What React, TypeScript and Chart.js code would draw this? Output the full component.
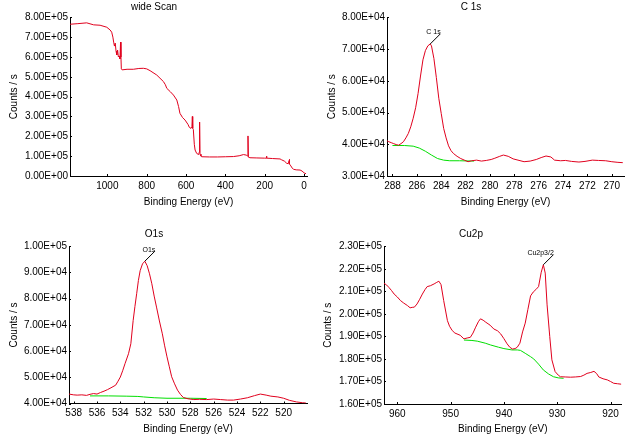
import React, { useEffect, useRef } from "react";
import { Chart, registerables } from "chart.js";

Chart.register(...registerables);
Chart.defaults.font.family = "'Liberation Sans', Arial, sans-serif";
Chart.defaults.font.size = 10;
Chart.defaults.color = "#000";

const RED = "rgb(224,0,30)";
const GREEN = "rgb(0,222,0)";

// ---------- wide scan ----------
const wideBE = [1190, 1150, 1105, 1070, 1037, 1003, 986, 978, 972, 968, 964, 960, 956, 952, 948, 944, 940, 936, 933, 931, 929, 925, 900, 868, 840, 817, 800, 783, 749, 715, 705, 698, 680, 664, 647, 638, 631, 618, 605, 590, 583, 575, 570, 568, 566, 563, 558, 554, 546, 536, 533, 531, 529, 524, 520, 480, 440, 400, 359, 330, 308, 292, 287, 285, 283, 275, 240, 200, 193, 191, 189, 160, 122, 115, 100, 88, 80, 76, 75, 73, 70, 60, 54, 40, 20, 10, 5, 0, -5, -10];
const wideCounts = [765000, 768000, 772000, 762000, 760000, 750000, 736000, 725000, 700000, 675000, 655000, 670000, 630000, 610000, 635000, 600000, 605000, 590000, 675000, 600000, 540000, 535000, 538000, 538000, 542000, 543000, 540000, 531000, 509000, 476000, 460000, 442000, 425000, 408000, 383000, 350000, 316000, 295000, 282000, 260000, 245000, 240000, 250000, 300000, 240000, 235000, 160000, 131000, 114000, 108000, 120000, 272000, 110000, 100000, 97000, 96000, 96000, 97000, 98000, 102000, 108000, 105000, 100000, 202000, 95000, 92000, 91000, 90000, 90000, 100000, 90000, 88000, 86000, 82000, 75000, 64000, 62000, 78000, 84000, 60000, 55000, 40000, 34000, 31000, 30000, 25000, 20000, 16000, 13000, 12000];
const wideXTicks = [1000, 800, 600, 400, 200, 0];
const wideYTicks = [0, 100000, 200000, 300000, 400000, 500000, 600000, 700000, 800000];

// ---------- C 1s ----------
const c1sBE = [288.5, 288.3, 288.1, 287.9, 287.7, 287.5, 287.3, 287.1, 286.9, 286.7, 286.5, 286.3, 286.1, 285.9, 285.7, 285.5, 285.3, 285.1, 284.9, 284.8, 284.6, 284.4, 284.2, 284.0, 283.8, 283.6, 283.4, 283.2, 283.0, 282.7, 282.4, 282.1, 281.8, 281.5, 281.1, 280.7, 280.3, 279.9, 279.6, 279.2, 278.9, 278.5, 278.1, 277.7, 277.2, 276.7, 276.2, 275.8, 275.4, 275.0, 274.7, 274.2, 273.8, 273.3, 272.7, 272.2, 271.6, 271.1, 270.5, 270.0, 269.5, 269.1];
const c1sCounts = [41200, 40800, 40500, 40200, 39900, 39700, 40200, 40800, 42000, 43400, 45500, 48200, 51500, 56000, 61500, 66600, 69500, 71000, 71600, 71000, 67000, 61000, 54500, 49700, 45000, 42000, 39500, 38000, 37100, 36200, 35500, 35000, 34500, 34800, 35000, 34700, 34900, 35200, 35600, 36200, 36600, 36200, 35400, 35000, 34500, 34700, 35200, 35800, 36300, 36000, 35000, 34800, 34900, 34600, 34400, 34600, 35000, 34900, 34800, 34500, 34300, 34200];
const c1sBgBE = [288.0, 287.0, 286.3, 285.8, 285.3, 284.8, 284.3, 283.8, 283.3, 282.5, 281.3];
const c1sBg = [39600, 39600, 39400, 38800, 37800, 36600, 35500, 35000, 34800, 34800, 34700];
const c1sXTicks = [288, 286, 284, 282, 280, 278, 276, 274, 272, 270];
const c1sYTicks = [30000, 40000, 50000, 60000, 70000, 80000];

// ---------- O1s ----------
const o1sBE = [538.4, 538.0, 537.7, 537.3, 536.9, 536.6, 536.3, 536.0, 535.7, 535.4, 535.1, 534.8, 534.4, 534.2, 534.0, 533.8, 533.6, 533.3, 533.1, 532.9, 532.75, 532.6, 532.45, 532.3, 532.1, 531.9, 531.7, 531.5, 531.3, 531.1, 530.9, 530.65, 530.4, 530.2, 530.0, 529.8, 529.6, 529.35, 529.1, 528.85, 528.6, 528.2, 527.7, 527.2, 526.6, 526.0, 525.4, 524.8, 524.3, 523.7, 523.1, 522.5, 522.0, 521.5, 521.1, 520.5, 520.0, 519.5, 518.9, 518.4, 518.1];
const o1sCounts = [43600, 43300, 43200, 43300, 43100, 43500, 43800, 43600, 44200, 44700, 45300, 46000, 47000, 48500, 50100, 52500, 55200, 59000, 62800, 71700, 77000, 81900, 87000, 90700, 93300, 94300, 92600, 89500, 85700, 81000, 76800, 71500, 66600, 62000, 57800, 54000, 50200, 47500, 45100, 43500, 42300, 41800, 41500, 41600, 41500, 41700, 41500, 41300, 41300, 41700, 42200, 43000, 43600, 43200, 42800, 42500, 42000, 41200, 40600, 40300, 40200];
const o1sBgBE = [536.6, 535.0, 533.5, 532.5, 532.0, 531.1, 530.0, 529.4, 528.0, 526.6];
const o1sBg = [42900, 42900, 42800, 42700, 42500, 42200, 42000, 42000, 42000, 41900];
const o1sXTicks = [538, 536, 534, 532, 530, 528, 526, 524, 522, 520];
const o1sYTicks = [40000, 50000, 60000, 70000, 80000, 90000, 100000];

// ---------- Cu2p ----------
const cu2pBE = [962.5, 962.0, 961.6, 961.1, 960.6, 960.0, 959.4, 958.8, 958.1, 957.6, 957.2, 956.8, 956.3, 955.8, 955.3, 954.8, 954.4, 953.8, 953.1, 952.6, 952.2, 951.8, 951.3, 950.6, 950.2, 949.7, 949.2, 948.8, 948.2, 947.5, 946.9, 946.3, 945.8, 945.3, 944.8, 944.4, 943.9, 943.4, 942.6, 941.9, 941.2, 940.6, 940.0, 939.4, 938.9, 938.4, 937.9, 937.5, 937.0, 936.5, 936.0, 935.5, 935.0, 934.5, 934.0, 933.5, 933.0, 932.6, 932.25, 931.9, 931.4, 931.0, 930.4, 929.8, 929.4, 928.5, 927.5, 926.6, 925.6, 925.0, 924.4, 923.7, 923.1, 922.6, 922.2, 921.4, 920.6, 920.0, 919.4, 918.7, 918.0];
const cu2pCounts = [213600, 212800, 211800, 210400, 208800, 207500, 205900, 204800, 203700, 202700, 202900, 203000, 204400, 206500, 208800, 210800, 212100, 212500, 213300, 214000, 214500, 213000, 205900, 197000, 194500, 192600, 191500, 191100, 190500, 188900, 189300, 189600, 191500, 194100, 196500, 197800, 197200, 196300, 195000, 193300, 192500, 191100, 189000, 186700, 185200, 184400, 184600, 185200, 187000, 192000, 195900, 202000, 208000, 209700, 210800, 212100, 218500, 221800, 218100, 204000, 189900, 179600, 174400, 172800, 172100, 172000, 171900, 172000, 172200, 172800, 173600, 174000, 174500, 173500, 172000, 171200, 170700, 170000, 169200, 169000, 168800];
const cu2pBgBE = [947.5, 946.0, 945.0, 943.5, 942.5, 941.0, 940.0, 938.5, 937.5, 936.9, 936.0, 935.0, 934.4, 933.5, 932.6, 931.6, 930.7, 929.8, 928.8];
const cu2pBg = [188400, 188200, 187900, 187000, 186200, 185200, 184600, 184000, 184000, 183800, 182500, 181000, 180000, 177700, 175100, 173300, 172100, 171600, 171400];
const cu2pXTicks = [960, 950, 940, 930, 920];
const cu2pYTicks = [160000, 170000, 180000, 190000, 200000, 210000, 220000, 230000];

const xTitle = "Binding Energy (eV)";
const yTitle = "Counts / s";

function fmtExp(v: number): string {
  const s = Number(v).toExponential(2);
  const [m, e] = s.split("e");
  const n = parseInt(e, 10);
  return `${m}E${n < 0 ? "-" : "+"}${String(Math.abs(n)).padStart(2, "0")}`;
}

function zip(xs: number[], ys: number[]) {
  return xs.map((x, i) => ({ x, y: ys[i] }));
}

type Geo = { L: number; R: number; T: number; B: number; titleY: number; xTitleY: number; yTitleX: number };
type Peak = { be: number; value: number; text: string } | null;
type PanelCfg = {
  left: number;
  top: number;
  title: string;
  geo: Geo;
  xMin: number;
  xMax: number;
  yMin: number;
  yMax: number;
  xTicks: number[];
  yTicks: number[];
  red: { x: number; y: number }[];
  green: { x: number; y: number }[] | null;
  peak: Peak;
};

const W = 317;
const H = 224;

const panels: PanelCfg[] = [
  {
    left: 0, top: 0, title: "wide Scan",
    geo: { L: 70, R: 307, T: 17.3, B: 176, titleY: 7, xTitleY: 202, yTitleX: 14 },
    xMin: -15, xMax: 1190, yMin: 0, yMax: 800000,
    xTicks: wideXTicks, yTicks: wideYTicks,
    red: zip(wideBE, wideCounts), green: null, peak: null,
  },
  {
    left: 317, top: 0, title: "C 1s",
    geo: { L: 70, R: 307, T: 17.3, B: 176, titleY: 7, xTitleY: 202, yTitleX: 15 },
    xMin: 269.0, xMax: 288.45, yMin: 30000, yMax: 80000,
    xTicks: c1sXTicks, yTicks: c1sYTicks,
    red: zip(c1sBE, c1sCounts), green: zip(c1sBgBE, c1sBg),
    peak: { be: 284.9, value: 71600, text: "C 1s" },
  },
  {
    left: 0, top: 224, title: "O1s",
    geo: { L: 69, R: 307, T: 22.3, B: 179.5, titleY: 10, xTitleY: 205, yTitleX: 14 },
    xMin: 518.0, xMax: 538.4, yMin: 40000, yMax: 100000,
    xTicks: o1sXTicks, yTicks: o1sYTicks,
    red: zip(o1sBE, o1sCounts), green: zip(o1sBgBE, o1sBg),
    peak: { be: 531.9, value: 94300, text: "O1s" },
  },
  {
    left: 317, top: 224, title: "Cu2p",
    geo: { L: 67, R: 304.7, T: 22.3, B: 180, titleY: 10, xTitleY: 205, yTitleX: 11 },
    xMin: 917.9, xMax: 962.5, yMin: 160000, yMax: 230000,
    xTicks: cu2pXTicks, yTicks: cu2pYTicks,
    red: zip(cu2pBE, cu2pCounts), green: zip(cu2pBgBE, cu2pBg),
    peak: { be: 932.6, value: 221800, text: "Cu2p3/2" },
  },
];

function Panel({ cfg }: { cfg: PanelCfg }) {
  const ref = useRef<HTMLCanvasElement | null>(null);
  useEffect(() => {
    const g = cfg.geo;
    const datasets: any[] = [
      { data: cfg.red, borderColor: RED, borderWidth: 1, pointRadius: 0, tension: 0, fill: false },
    ];
    if (cfg.green) {
      datasets.push({ data: cfg.green, borderColor: GREEN, borderWidth: 1, pointRadius: 0, tension: 0, fill: false });
    }
    const deco = {
      id: "deco",
      afterDraw(chart: any) {
        const ctx = chart.ctx;
        const xs = chart.scales.x;
        const ys = chart.scales.y;
        ctx.save();
        // small inward tick marks
        ctx.strokeStyle = "#000";
        ctx.lineWidth = 1;
        ctx.beginPath();
        for (const t of xs.ticks) {
          const px = Math.round(xs.getPixelForValue(t.value)) + 0.5;
          ctx.moveTo(px, ys.bottom);
          ctx.lineTo(px, ys.bottom - 2);
        }
        for (const t of ys.ticks) {
          const py = Math.round(ys.getPixelForValue(t.value)) + 0.5;
          ctx.moveTo(xs.left, py);
          ctx.lineTo(xs.left + 2, py);
        }
        ctx.stroke();
        ctx.fillStyle = "#000";
        ctx.font = "10px 'Liberation Sans', Arial, sans-serif";
        ctx.textAlign = "center";
        ctx.textBaseline = "middle";
        ctx.fillText(cfg.title, 154, g.titleY);
        if (cfg.peak) {
          const px = xs.getPixelForValue(cfg.peak.be);
          const py = ys.getPixelForValue(cfg.peak.value);
          ctx.beginPath();
          ctx.moveTo(px, py);
          ctx.lineTo(px + 10, py - 10);
          ctx.stroke();
          ctx.font = "7px 'Liberation Sans', Arial, sans-serif";
          ctx.textAlign = "right";
          ctx.fillText(cfg.peak.text, px + 10.5, py - 11.5);
        }
        ctx.restore();
      },
    };
    const chart = new Chart(ref.current as HTMLCanvasElement, {
      type: "line",
      data: { datasets },
      options: {
        animation: false,
        responsive: false,
        devicePixelRatio: 1,
        parsing: false,
        normalized: true,
        layout: { padding: { left: 0, right: W - g.R, top: g.T, bottom: 0 } },
        plugins: { legend: { display: false }, tooltip: { enabled: false }, title: { display: false } },
        scales: {
          x: {
            type: "linear",
            reverse: true,
            min: cfg.xMin,
            max: cfg.xMax,
            grid: { display: false, drawTicks: false, tickLength: 0 },
            border: { display: true, color: "#000", width: 1 },
            ticks: { color: "#000", font: { size: 10 }, padding: 4, maxRotation: 0, autoSkip: false, callback: (v: any) => String(v) },
            afterBuildTicks: (s: any) => { s.ticks = cfg.xTicks.map((v) => ({ value: v })); },
            afterFit: (s: any) => { s.height = H - g.B; },
            title: { display: true, text: xTitle, color: "#000", font: { size: 10 }, padding: { top: 0, bottom: H - g.xTitleY - 6 } },
          },
          y: {
            type: "linear",
            min: cfg.yMin,
            max: cfg.yMax,
            grid: { display: false, drawTicks: false, tickLength: 0 },
            border: { display: true, color: "#000", width: 1 },
            ticks: { color: "#000", font: { size: 10 }, padding: 2, autoSkip: false, callback: (v: any) => fmtExp(Number(v)) },
            afterBuildTicks: (s: any) => { s.ticks = cfg.yTicks.map((v) => ({ value: v })); },
            afterFit: (s: any) => { s.width = g.L; },
            title: { display: true, text: yTitle, color: "#000", font: { size: 10 }, padding: { top: g.yTitleX - 6, bottom: 0 } },
          },
        },
      } as any,
      plugins: [deco],
    });
    return () => chart.destroy();
  }, [cfg]);
  return (
    <canvas
      ref={ref}
      width={W}
      height={H}
      style={{ position: "absolute", left: cfg.left, top: cfg.top, width: W, height: H, display: "block" }}
    />
  );
}

export default function App() {
  return (
    <div style={{ position: "fixed", left: 0, top: 0, width: 634, height: 448, background: "#fff", overflow: "hidden" }}>
      {panels.map((p, i) => (
        <Panel key={i} cfg={p} />
      ))}
    </div>
  );
}
